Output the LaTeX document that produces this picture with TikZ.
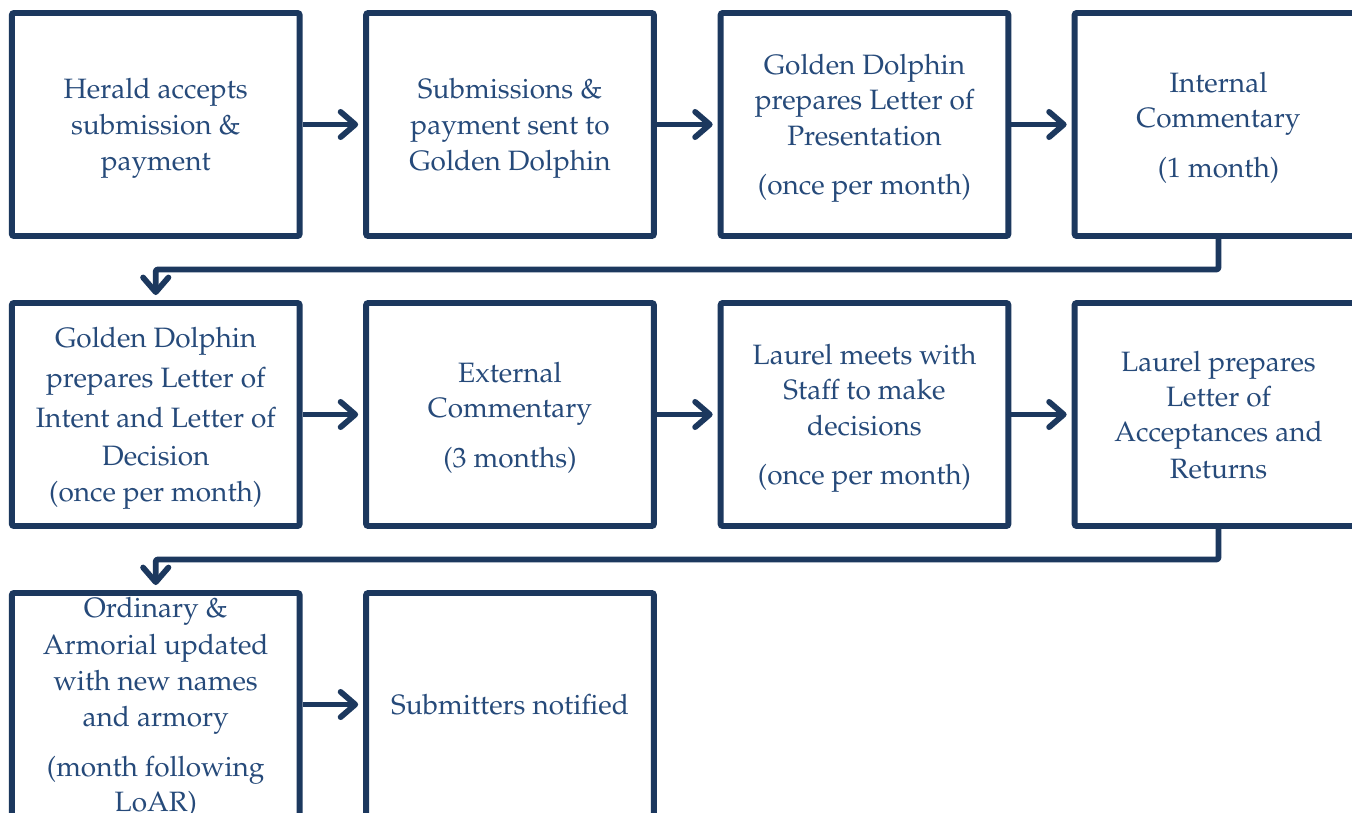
\documentclass[tikz,border=0pt]{standalone}
\usepackage[T1]{fontenc}
\usepackage{mathpazo}
\usetikzlibrary{arrows.meta}
\definecolor{edge}{RGB}{28,56,94}
\definecolor{ink}{RGB}{38,74,122}
\tikzset{
  stepbox/.style={draw=edge, line width=4.4pt, rounded corners=1.5pt, fill=white,
    minimum width=215.8pt, minimum height=167.2pt, inner sep=0pt, text depth=0pt,
    align=center, text=ink, font=\fontsize{21}{26.6}\selectfont},
  flow/.style={draw=edge, line width=4.3pt, line join=round, rounded corners=1.5pt,
    -{Straight Barb[length=11pt,width=19pt,round]}, shorten >=3.8pt}
}
\begin{document}
\begin{tikzpicture}[x=0.75pt,y=-0.75pt]
\clip (0,0) rectangle (1352,813);
\fill[white] (0,0) rectangle (1352,813);
% row 1
\node[stepbox] (r1c1) at (155.75,124.5) {Herald accepts\\[0.6pt] submission \&\\[0.6pt] payment};
\node[stepbox] (r1c2) at (510,124.5) {Submissions \&\\[0.6pt] payment sent to\\[0.6pt] Golden Dolphin};
\node[stepbox] (r1c3) at (864.5,124.5) {Golden Dolphin\\ prepares Letter of\\ Presentation\\[10.5pt] (once per month)};
\node[stepbox] (r1c4) at (1218.5,124.5) {Internal\\ Commentary\\[10.5pt] (1 month)};
% row 2
\node[stepbox] (r2c1) at (155.75,414.5) {Golden Dolphin\\[3.4pt] prepares Letter of\\[3.4pt] Intent and Letter of\\[2pt] Decision\\ (once per month)};
\node[stepbox] (r2c2) at (510,414.5) {External\\ Commentary\\[10.5pt] (3 months)};
\node[stepbox] (r2c3) at (864.5,414.5) {Laurel meets with\\ Staff to make\\ decisions\\[10.5pt] (once per month)};
\node[stepbox] (r2c4) at (1218.5,414.5) {Laurel prepares\\ Letter of\\ Acceptances and\\[0.6pt] Returns};
% row 3
\node[stepbox] (r3c1) at (155.75,704.5) {Ordinary \&\\[0.6pt] Armorial updated\\[0.6pt] with new names\\[0.6pt] and armory\\[10.5pt] (month following\\ LoAR)};
\node[stepbox] (r3c2) at (510,704.5) {Submitters notified};
% junctions
\coordinate (j1) at (1218.5,269.5);
\coordinate (j2) at (1218.5,559.5);
% connectors
\draw[flow] (r1c1) -- (r1c2);
\draw[flow] (r1c2) -- (r1c3);
\draw[flow] (r1c3) -- (r1c4);
\draw[flow] (r1c4.south) -- (j1) -| (r2c1.north);
\draw[flow] (r2c1) -- (r2c2);
\draw[flow] (r2c2) -- (r2c3);
\draw[flow] (r2c3) -- (r2c4);
\draw[flow] (r2c4.south) -- (j2) -| (r3c1.north);
\draw[flow] (r3c1) -- (r3c2);
\end{tikzpicture}
\end{document}
